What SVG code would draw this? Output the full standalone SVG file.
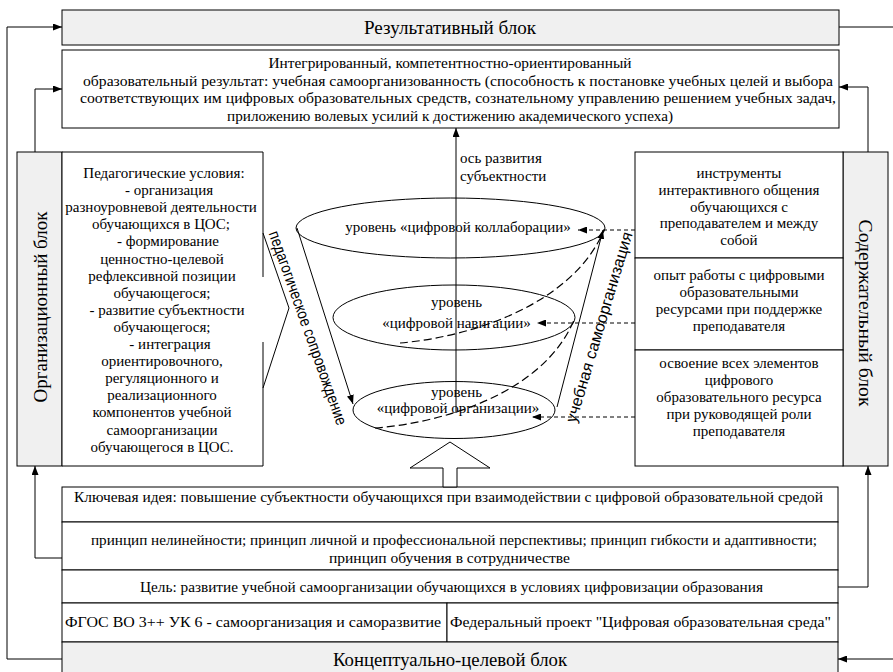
<svg xmlns="http://www.w3.org/2000/svg" width="893" height="672" viewBox="0 0 893 672">
<defs>
<marker id="ah" viewBox="0 0 10 10" refX="10" refY="5" markerWidth="9" markerHeight="7" markerUnits="userSpaceOnUse" orient="auto" preserveAspectRatio="none"><path d="M0,0 L10,5 L0,10 z" fill="#000"/></marker>
</defs>
<style>
.box{fill:#fff;stroke:#000;stroke-width:1}
.gray{fill:#f0f0f0;stroke:#000;stroke-width:1}
.t{font-size:15px;fill:#000;text-anchor:middle}
.tl{font-size:15px;fill:#000;text-anchor:start}
.title{font-size:19px;fill:#000;text-anchor:middle}
.s{font-size:16px;fill:#000;text-anchor:middle;dominant-baseline:central}
.ln{fill:none;stroke:#000;stroke-width:1}
.dash{fill:none;stroke:#000;stroke-width:1;stroke-dasharray:4 3}
.dash2{fill:none;stroke:#000;stroke-width:1.2;stroke-dasharray:8 4}
</style>
<rect x="0" y="0" width="893" height="672" fill="#fff"/>
<g font-family="Liberation Serif, Times New Roman, serif">
<g id="result-block">
<rect class="gray" x="62" y="10" width="777" height="35"/>
<text class="title" x="450" y="34" textLength="172" lengthAdjust="spacingAndGlyphs">Результативный блок</text>
</g>
<g id="result-content">
<rect class="box" x="62" y="50" width="777" height="78"/>
<text class="t" x="450" y="68" textLength="363" lengthAdjust="spacingAndGlyphs">Интегрированный, компетентностно-ориентированный</text>
<text class="t" x="458" y="85.5" textLength="750" lengthAdjust="spacingAndGlyphs">образовательный результат: учебная самоорганизованность (способность к постановке учебных целей и выбора</text>
<text class="t" x="458" y="103" textLength="756" lengthAdjust="spacingAndGlyphs">соответствующих им цифровых образовательных средств, сознательному управлению решением учебных задач,</text>
<text class="t" x="450" y="120.5" textLength="446" lengthAdjust="spacingAndGlyphs">приложению волевых усилий к достижению академического успеха)</text>
</g>

<g id="org-block">
<rect class="gray" x="17" y="152" width="45" height="314"/>
<text class="title" transform="translate(46.5,307) rotate(-90)" x="0" y="0" textLength="191" lengthAdjust="spacingAndGlyphs">Организационный блок</text>
</g>
<g id="org-content">
<rect x="62" y="152" width="201" height="314" fill="#fff"/>
<path class="ln" d="M263 277 V152 H62 V466 H263 V342"/>
<polyline class="ln" points="263,233 289,308 263,388"/>
<text class="t" x="164" y="178">Педагогические условия:</text>
<text class="t" x="169" y="195.1">- организация</text>
<text class="t" x="161" y="212.2">разноуровневой деятельности</text>
<text class="t" x="161" y="229.3">обучающихся в ЦОС;</text>
<text class="t" x="168" y="246.4">-  формирование</text>
<text class="t" x="162" y="263.5">ценностно-целевой</text>
<text class="t" x="162" y="280.6">рефлексивной позиции</text>
<text class="t" x="162" y="297.7">обучающегося;</text>
<text class="t" x="167" y="314.8">- развитие субъектности</text>
<text class="t" x="162" y="331.9">обучающегося;</text>
<text class="t" x="170" y="349">- интеграция</text>
<text class="t" x="162" y="366.1">ориентировочного,</text>
<text class="t" x="162" y="383.2">регуляционного и</text>
<text class="t" x="162" y="400.3">реализационного</text>
<text class="t" x="162" y="417.4">компонентов учебной</text>
<text class="t" x="162" y="434.5">самоорганизации</text>
<text class="t" x="162" y="451.6">обучающегося в ЦОС.</text>
</g>

<g id="content-block">
<rect class="gray" x="843" y="152" width="45" height="314"/>
<text class="title" transform="translate(858.5,313) rotate(90)" x="0" y="0" textLength="187" lengthAdjust="spacingAndGlyphs">Содержательный блок</text>
</g>
<g id="content-1">
<rect class="box" x="635" y="152" width="208" height="106"/>
<text class="t" x="739" y="178">инструменты</text>
<text class="t" x="739" y="195">интерактивного общения</text>
<text class="t" x="739" y="211.5">обучающихся с</text>
<text class="t" x="739" y="228">преподавателем и между</text>
<text class="t" x="739" y="244.5">собой</text>
</g>
<g id="content-2">
<rect class="box" x="635" y="258" width="208" height="92"/>
<text class="t" x="739" y="280">опыт работы с цифровыми</text>
<text class="t" x="739" y="297">образовательными</text>
<text class="t" x="739" y="314">ресурсами при поддержке</text>
<text class="t" x="739" y="331">преподавателя</text>
</g>
<g id="content-3">
<rect class="box" x="635" y="350" width="208" height="116"/>
<text class="t" x="739" y="368">освоение всех элементов</text>
<text class="t" x="739" y="385">цифрового</text>
<text class="t" x="739" y="402">образовательного ресурса</text>
<text class="t" x="739" y="419">при руководящей роли</text>
<text class="t" x="739" y="436">преподавателя</text>
</g>

<g id="funnel">
<ellipse class="ln" cx="450.5" cy="228" rx="154.5" ry="30"/>
<ellipse class="ln" cx="454" cy="317.5" rx="121" ry="32.5"/>
<ellipse class="ln" cx="454" cy="410" rx="101" ry="28.5"/>
</g>
<g id="level-collab">
<text class="t" x="458" y="232">уровень «цифровой коллаборации»</text>
</g>
<g id="level-nav">
<text class="t" x="456.5" y="306.5">уровень</text>
<text class="t" x="456.5" y="327.5">«цифровой навигации»</text>
</g>
<g id="level-org">
<text class="t" x="456.5" y="396.5">уровень</text>
<text class="t" x="458" y="413">«цифровой организации»</text>
</g>
<g id="axis-label">
<text class="tl" x="460" y="163">ось развития</text>
<text class="tl" x="460" y="181">субъектности</text>
</g>

<g id="key-idea">
<rect class="box" x="62" y="487" width="776" height="35"/>
<text class="t" x="448.5" y="502" textLength="749" lengthAdjust="spacingAndGlyphs">Ключевая идея: повышение субъектности обучающихся при взаимодействии с цифровой образовательной средой</text>
</g>
<g id="principles">
<rect class="box" x="62" y="522" width="776" height="48"/>
<text class="t" x="454" y="545" textLength="726" lengthAdjust="spacingAndGlyphs">принцип нелинейности; принцип личной и профессиональной перспективы; принцип гибкости и адаптивности;</text>
<text class="t" x="449.5" y="563" textLength="241" lengthAdjust="spacingAndGlyphs">принцип обучения в сотрудничестве</text>
</g>
<g id="goal">
<rect class="box" x="62" y="570" width="776" height="33"/>
<text class="t" x="451.5" y="592" textLength="623" lengthAdjust="spacingAndGlyphs">Цель: развитие учебной самоорганизации обучающихся в условиях цифровизации образования</text>
</g>
<g id="fgos">
<rect class="box" x="62" y="603" width="385" height="39"/>
<text class="t" x="253" y="627" textLength="376" lengthAdjust="spacingAndGlyphs">ФГОС ВО 3++ УК 6 - самоорганизация и саморазвитие</text>
</g>
<g id="fed-project">
<rect class="box" x="447" y="603" width="391" height="39"/>
<text class="t" x="640.5" y="627" textLength="381" lengthAdjust="spacingAndGlyphs">Федеральный проект "Цифровая образовательная среда"</text>
</g>
<g id="concept-block">
<rect class="gray" x="62" y="642" width="776" height="40"/>
<text class="title" x="450" y="666" textLength="234" lengthAdjust="spacingAndGlyphs">Концептуально-целевой блок</text>
</g>
</g>
<g id="labels-rotated" font-family="Liberation Sans, Arial, sans-serif">
<text class="s" transform="translate(308,328) rotate(70.4)" x="0" y="0" textLength="205" lengthAdjust="spacingAndGlyphs">педагогическое сопровождение</text>
<text class="s" transform="translate(599,327) rotate(-73.3)" x="0" y="0" textLength="198" lengthAdjust="spacingAndGlyphs">учебная самоорганизация</text>
</g>
<g id="block-arrow">
<polygon class="box" points="443,487 443,468 410,468 450,442 490,468 457,468 457,487"/>
</g>

<g id="connectors">
<path class="ln" d="M62 659 H7 V27 H62" marker-end="url(#ah)"/>
<path class="ln" d="M839 27 H900 V659 H838" marker-end="url(#ah)"/>
<path class="ln" d="M62 558 H35 V466" marker-end="url(#ah)"/>
<path class="ln" d="M35 152 V89 H62" marker-end="url(#ah)"/>
<path class="ln" d="M838 587 H868 V466" marker-end="url(#ah)"/>
<path class="ln" d="M868 152 V87 H839" marker-end="url(#ah)"/>
<path class="ln" d="M456 412 V128" marker-end="url(#ah)"/>
<path class="ln" d="M297 228 L353 404" marker-end="url(#ah)"/>
<path class="ln" d="M557 407 L603 230" marker-end="url(#ah)"/>
<path class="dash" d="M635 230 H578" marker-end="url(#ah)"/>
<path class="dash" d="M635 323 H537" marker-end="url(#ah)"/>
<path class="dash" d="M635 417 H532" marker-end="url(#ah)"/>
<path class="dash2" d="M375 428 C450 422 545 390 574 320"/>
<path class="dash2" d="M400 343 C480 336 575 300 604 230"/>
</g>
</svg>
